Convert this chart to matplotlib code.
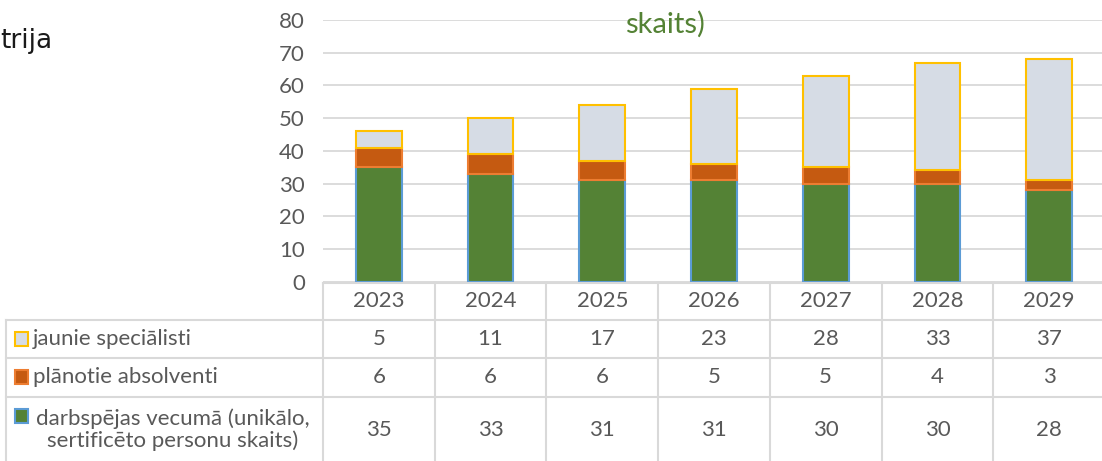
import matplotlib.pyplot as plt
import numpy as np
from matplotlib.lines import Line2D
from matplotlib.patches import Rectangle
from matplotlib.transforms import blended_transform_factory

years = ["2023", "2024", "2025", "2026", "2027", "2028", "2029"]
darbspejas = [35, 33, 31, 31, 30, 30, 28]
planotie = [6, 6, 6, 5, 5, 4, 3]
jaunie = [5, 11, 17, 23, 28, 33, 37]

labels = ["jaunie speciālisti", "plānotie absolventi",
          "darbspējas vecumā (unikālo,\nsertificēto personu skaits)"]

green, green_edge = "#548235", "#5b9bd5"
orange, orange_edge = "#c55a11", "#ed7d31"
grey, grey_edge = "#d6dce5", "#ffc000"
grid_c = "#d9d9d9"
txt_c = "#595959"
fs = 16

plt.rcParams["font.family"] = ["Lato", "DejaVu Sans"]

W, H = 1102, 461
fig = plt.figure(figsize=(W / 100, H / 100), dpi=100)


def fx(px):
    return px / W


def fy(py):
    return 1 - py / H


ax = fig.add_axes([fx(323), fy(281.6), fx(1105) - fx(323), fy(20) - fy(281.6)])
x = np.arange(len(years))
bw = 0.41
b1 = np.array(darbspejas)
b2 = b1 + np.array(planotie)
ax.bar(x, darbspejas, bw, color=green, edgecolor=green_edge, lw=1.5, zorder=3)
ax.bar(x, planotie, bw, bottom=b1, color=orange, edgecolor=orange_edge, lw=1.5, zorder=3)
ax.bar(x, jaunie, bw, bottom=b2, color=grey, edgecolor=grey_edge, lw=1.5, zorder=3)

ax.set_xlim(-0.5, len(years) - 0.5)
ax.set_ylim(0, 80)
ax.set_yticks(range(0, 81, 10))
ax.set_xticks([])
ax.yaxis.grid(True, color=grid_c, lw=1.3)
ax.set_axisbelow(True)
for s in ["top", "right", "left", "bottom"]:
    ax.spines[s].set_visible(False)
ax.tick_params(axis="y", length=0, pad=13, labelsize=fs, labelcolor=txt_c)

# data table below the plot
tr = blended_transform_factory(ax.transData, fig.transFigure)
row_lines = [283, 320, 358, 397]
row_centers = [339, 377, 430]
lw_t = 1.5
fig.add_artist(Line2D([fx(323), 1], [fy(283), fy(283)], color=grid_c, lw=lw_t))
for yl in row_lines[1:]:
    fig.add_artist(Line2D([fx(6), 1], [fy(yl), fy(yl)], color=grid_c, lw=lw_t))
fig.add_artist(Line2D([fx(6), fx(6)], [fy(320), 0], color=grid_c, lw=lw_t))
for b in np.arange(len(years) + 1) - 0.5:
    ax.add_line(Line2D([b, b], [fy(283), 0], color=grid_c, lw=lw_t,
                       transform=tr, clip_on=False))

for i, yr in enumerate(years):
    ax.text(i, fy(301), yr, transform=tr, ha="center", va="center",
            fontsize=fs, color=txt_c)

series = [jaunie, planotie, darbspejas]
keys = [(grey, grey_edge), (orange, orange_edge), (green, green_edge)]
for r, (vals, lab, (fc, ec)) in enumerate(zip(series, labels, keys)):
    yc = row_centers[r]
    for i, v in enumerate(vals):
        ax.text(i, fy(yc), str(v), transform=tr, ha="center", va="center",
                fontsize=fs, color=txt_c)
    ky = 339 if r == 0 else (377 if r == 1 else 416)
    fig.add_artist(Rectangle((fx(15), fy(ky + 7)), fx(13), fy(ky - 7) - fy(ky + 7),
                             facecolor=fc, edgecolor=ec, lw=1.5))
    if r < 2:
        fig.text(fx(33), fy(yc), lab, ha="left", va="center",
                 fontsize=fs, color=txt_c)
    else:
        fig.text(fx(173), fy(yc), lab, ha="center", va="center",
                 fontsize=fs, color=txt_c, linespacing=1.1)

# remnants of the cropped titles
fig.text(fx(665), fy(33), "skaits)", ha="center", va="baseline",
         fontsize=21, color=green)
fig.text(fx(0), fy(48), "trija", ha="left", va="baseline",
         fontsize=19, color="#1a1a1a", family="DejaVu Sans")

fig.savefig("out.png", dpi=100)
